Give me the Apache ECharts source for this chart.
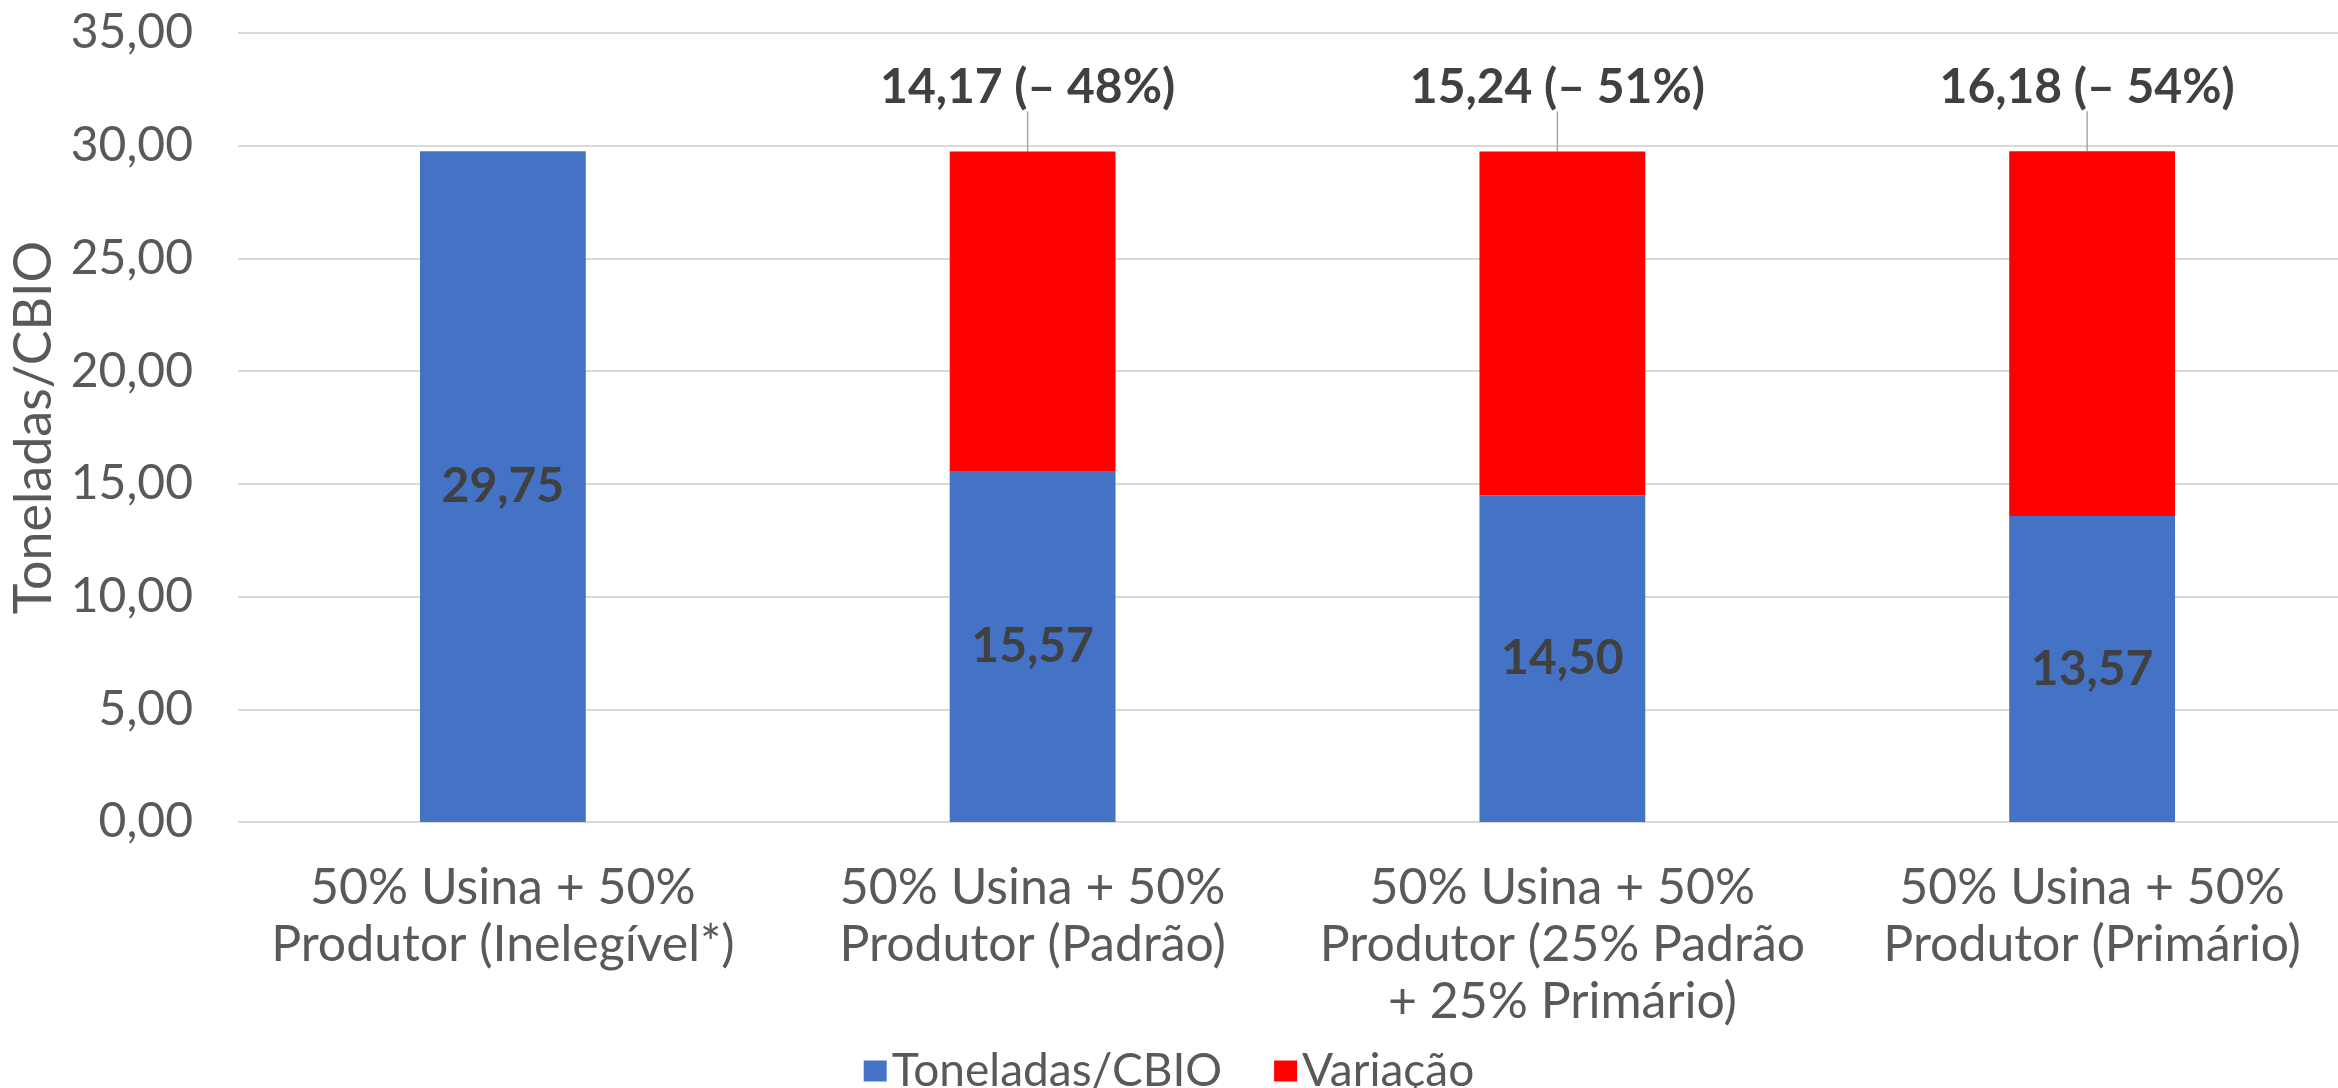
<!DOCTYPE html>
<html>
<head>
<meta charset="utf-8">
<script src="https://cdn.jsdelivr.net/npm/echarts@6/dist/echarts.min.js"></script>
<style>
  html, body { margin: 0; padding: 0; background: #fff; }
  #chart { width: 2338px; height: 1088px; }
</style>
</head>
<body>
<div id="chart"></div>
<script>
// Cenários de alocação (rótulos do eixo X)
const categories = [
  '50% Usina + 50%\nProdutor (Inelegível*)',
  '50% Usina + 50%\nProdutor (Padrão)',
  '50% Usina + 50%\nProdutor (25% Padrão\n+ 25% Primário)',
  '50% Usina + 50%\nProdutor (Primário)'
];
// Toneladas por CBIO em cada cenário
const toneladas = [29.75, 15.57, 14.50, 13.57];
// Redução em relação ao cenário inelegível
const variacao = [null, 14.17, 15.24, 16.18];
// Marcas do eixo Y
const yTicks = [0, 5, 10, 15, 20, 25, 30, 35];

const FONT = 'Lato';
const fmt = v => v.toFixed(2).replace('.', ',');

const chart = echarts.init(document.getElementById('chart'), null, { renderer: 'canvas' });

chart.setOption({
  animation: false,
  textStyle: { fontFamily: FONT },
  // a área de plotagem continua além da borda direita
  grid: { left: 238, top: 33, width: 2119, height: 789, outerBoundsMode: 'none' },
  legend: {
    top: 1043,
    left: 'center',
    itemWidth: 23,
    itemHeight: 21,
    itemGap: 52,
    icon: 'rect',
    textStyle: { fontFamily: FONT, fontSize: 46, color: '#595959' },
    data: ['Toneladas/CBIO', 'Variação']
  },
  xAxis: {
    type: 'category',
    data: categories,
    axisLine: { show: false },
    axisTick: { show: false },
    axisLabel: {
      margin: 37,
      fontFamily: FONT,
      fontSize: 50,
      lineHeight: 57,
      color: '#595959',
      interval: 0
    }
  },
  yAxis: {
    type: 'value',
    min: yTicks[0],
    max: yTicks[yTicks.length - 1],
    interval: 5,
    name: 'Toneladas/CBIO',
    nameLocation: 'middle',
    nameGap: 168,
    nameTextStyle: { fontFamily: FONT, fontSize: 52, color: '#595959' },
    axisLine: { show: false },
    axisTick: { show: false },
    axisLabel: {
      margin: 45,
      fontFamily: FONT,
      fontSize: 48,
      color: '#595959',
      formatter: v => fmt(v)
    },
    splitLine: { lineStyle: { color: '#d9d9d9', width: 2 } }
  },
  series: [
    {
      name: 'Toneladas/CBIO',
      type: 'bar',
      stack: 'total',
      barWidth: '31.3%',
      data: toneladas,
      itemStyle: { color: '#4472C4' },
      label: {
        show: true,
        position: 'inside',
        fontFamily: FONT,
        fontSize: 48,
        fontWeight: 'bold',
        color: '#404040',
        formatter: p => fmt(p.value)
      }
    },
    {
      name: 'Variação',
      type: 'bar',
      stack: 'total',
      barWidth: '31.3%',
      data: variacao,
      itemStyle: { color: '#FF0000' },
      label: {
        show: true,
        position: 'top',
        distance: 4,
        fontFamily: FONT,
        fontSize: 48,
        fontWeight: 'bold',
        color: '#404040',
        formatter: p => {
          if (p.value == null) return '';
          const base = toneladas[p.dataIndex];
          const pct = Math.round(p.value / (p.value + base) * 100);
          return fmt(p.value) + ' (– ' + pct + '%)';
        }
      },
      labelLayout: { dy: -36, dx: -5 },
      labelLine: { show: true, lineStyle: { color: '#a6a6a6', width: 1.5 } }
    }
  ]
});
</script>
</body>
</html>
